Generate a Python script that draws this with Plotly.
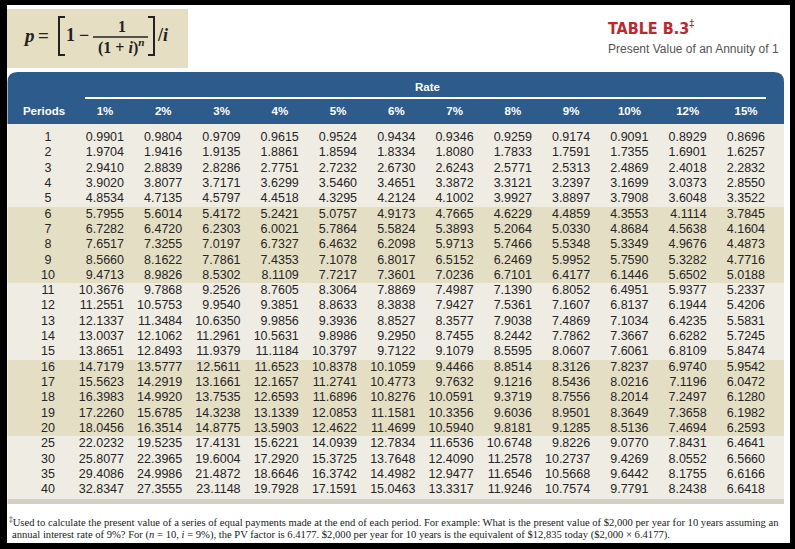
import plotly.graph_objects as go

# ---------------- data ----------------
rates = ["1%", "2%", "3%", "4%", "5%", "6%", "7%", "8%", "9%", "10%", "12%", "15%"]
periods = ["1", "2", "3", "4", "5", "6", "7", "8", "9", "10", "11", "12", "13", "14",
           "15", "16", "17", "18", "19", "20", "25", "30", "35", "40"]

pv_1 = [0.9901, 1.9704, 2.9410, 3.9020, 4.8534, 5.7955, 6.7282, 7.6517, 8.5660, 9.4713, 10.3676, 11.2551,
        12.1337, 13.0037, 13.8651, 14.7179, 15.5623, 16.3983, 17.2260, 18.0456, 22.0232, 25.8077, 29.4086, 32.8347]
pv_2 = [0.9804, 1.9416, 2.8839, 3.8077, 4.7135, 5.6014, 6.4720, 7.3255, 8.1622, 8.9826, 9.7868, 10.5753,
        11.3484, 12.1062, 12.8493, 13.5777, 14.2919, 14.9920, 15.6785, 16.3514, 19.5235, 22.3965, 24.9986, 27.3555]
pv_3 = [0.9709, 1.9135, 2.8286, 3.7171, 4.5797, 5.4172, 6.2303, 7.0197, 7.7861, 8.5302, 9.2526, 9.9540,
        10.6350, 11.2961, 11.9379, 12.5611, 13.1661, 13.7535, 14.3238, 14.8775, 17.4131, 19.6004, 21.4872, 23.1148]
pv_4 = [0.9615, 1.8861, 2.7751, 3.6299, 4.4518, 5.2421, 6.0021, 6.7327, 7.4353, 8.1109, 8.7605, 9.3851,
        9.9856, 10.5631, 11.1184, 11.6523, 12.1657, 12.6593, 13.1339, 13.5903, 15.6221, 17.2920, 18.6646, 19.7928]
pv_5 = [0.9524, 1.8594, 2.7232, 3.5460, 4.3295, 5.0757, 5.7864, 6.4632, 7.1078, 7.7217, 8.3064, 8.8633,
        9.3936, 9.8986, 10.3797, 10.8378, 11.2741, 11.6896, 12.0853, 12.4622, 14.0939, 15.3725, 16.3742, 17.1591]
pv_6 = [0.9434, 1.8334, 2.6730, 3.4651, 4.2124, 4.9173, 5.5824, 6.2098, 6.8017, 7.3601, 7.8869, 8.3838,
        8.8527, 9.2950, 9.7122, 10.1059, 10.4773, 10.8276, 11.1581, 11.4699, 12.7834, 13.7648, 14.4982, 15.0463]
pv_7 = [0.9346, 1.8080, 2.6243, 3.3872, 4.1002, 4.7665, 5.3893, 5.9713, 6.5152, 7.0236, 7.4987, 7.9427,
        8.3577, 8.7455, 9.1079, 9.4466, 9.7632, 10.0591, 10.3356, 10.5940, 11.6536, 12.4090, 12.9477, 13.3317]
pv_8 = [0.9259, 1.7833, 2.5771, 3.3121, 3.9927, 4.6229, 5.2064, 5.7466, 6.2469, 6.7101, 7.1390, 7.5361,
        7.9038, 8.2442, 8.5595, 8.8514, 9.1216, 9.3719, 9.6036, 9.8181, 10.6748, 11.2578, 11.6546, 11.9246]
pv_9 = [0.9174, 1.7591, 2.5313, 3.2397, 3.8897, 4.4859, 5.0330, 5.5348, 5.9952, 6.4177, 6.8052, 7.1607,
        7.4869, 7.7862, 8.0607, 8.3126, 8.5436, 8.7556, 8.9501, 9.1285, 9.8226, 10.2737, 10.5668, 10.7574]
pv_10 = [0.9091, 1.7355, 2.4869, 3.1699, 3.7908, 4.3553, 4.8684, 5.3349, 5.7590, 6.1446, 6.4951, 6.8137,
         7.1034, 7.3667, 7.6061, 7.8237, 8.0216, 8.2014, 8.3649, 8.5136, 9.0770, 9.4269, 9.6442, 9.7791]
pv_12 = [0.8929, 1.6901, 2.4018, 3.0373, 3.6048, 4.1114, 4.5638, 4.9676, 5.3282, 5.6502, 5.9377, 6.1944,
         6.4235, 6.6282, 6.8109, 6.9740, 7.1196, 7.2497, 7.3658, 7.4694, 7.8431, 8.0552, 8.1755, 8.2438]
pv_15 = [0.8696, 1.6257, 2.2832, 2.8550, 3.3522, 3.7845, 4.1604, 4.4873, 4.7716, 5.0188, 5.2337, 5.4206,
         5.5831, 5.7245, 5.8474, 5.9542, 6.0472, 6.1280, 6.1982, 6.2593, 6.4641, 6.5660, 6.6166, 6.6418]

columns = [pv_1, pv_2, pv_3, pv_4, pv_5, pv_6, pv_7, pv_8, pv_9, pv_10, pv_12, pv_15]

title_text = "TABLE B.3"
subtitle_text = "Present Value of an Annuity of 1"
group_label = "Rate"
period_label = "Periods"
foot_1 = ("<sup>‡</sup>Used to calculate the present value of a series of equal payments made at the end of each "
          "period. For example: What is the present value of $2,000 per year for 10 years assuming an")
foot_2 = ("annual interest rate of 9%? For (<i>n</i> = 10, <i>i</i> = 9%), the PV factor is 6.4177. "
          "$2,000 per year for 10 years is the equivalent of $12,835 today ($2,000 × 6.4177).")

# ---------------- layout helpers ----------------
W, H = 795, 549
def px(x):
    return x / W
def py(y):
    return 1 - y / H

NUMF = "Liberation Sans, Arial, sans-serif"
COND = "DejaVu Sans Condensed, DejaVu Sans, sans-serif"
SANS = "Liberation Sans, Arial, sans-serif"
SERIF = "Liberation Serif, Times New Roman, serif"
TXT = "#262626"
BLUE = "#2d5b8c"
LIGHT = "#efece3"
BEIGE = "#e4dec4"

# plot-area geometry (pixels)
top_px, bot_px = 124, 499
row1_px, rowN_px = 138, 490
step = (rowN_px - row1_px) / (len(periods) - 1)
y_top = -(row1_px - top_px) / step
y_bot = (bot_px - row1_px) / step

first_px, last_px = 124, 765
xs = (last_px - first_px) / (len(rates) - 1)

fig = go.Figure()

for rate, vals in zip(rates, columns):
    fig.add_trace(go.Scatter(
        x=[rate] * len(vals), y=periods, mode="text",
        text=[f"{v:.4f}" for v in vals], textposition="middle left",
        textfont=dict(family=NUMF, size=12.5, color=TXT),
        xaxis="x", yaxis="y", hoverinfo="skip", showlegend=False))

fig.add_trace(go.Scatter(
    x=[period_label] * len(periods), y=periods, mode="text",
    text=periods, textposition="middle center",
    textfont=dict(family=NUMF, size=12.5, color=TXT),
    xaxis="x2", yaxis="y", hoverinfo="skip", showlegend=False))

# ---------------- shapes ----------------
shapes = []
shapes.append(dict(type="rect", xref="paper", yref="paper", x0=px(7), x1=px(790), y0=py(543), y1=py(5),
                   fillcolor="white", line_width=0, layer="below"))
shapes.append(dict(type="rect", xref="paper", yref="paper", x0=px(7), x1=px(188), y0=py(68), y1=py(9),
                   fillcolor="#e5dec3", line_width=0, layer="below"))
r = 10
hx0, hx1, hy0, hy1 = 7.5, 784, 72, top_px
path = (f"M {px(hx0)},{py(hy1)} L {px(hx0)},{py(hy0 + r)} Q {px(hx0)},{py(hy0)} {px(hx0 + r)},{py(hy0)} "
        f"L {px(hx1 - r)},{py(hy0)} Q {px(hx1)},{py(hy0)} {px(hx1)},{py(hy0 + r)} L {px(hx1)},{py(hy1)} Z")
shapes.append(dict(type="path", xref="paper", yref="paper", path=path, fillcolor=BLUE, line_width=0, layer="below"))
shapes.append(dict(type="line", xref="paper", yref="paper", x0=px(85), x1=px(766), y0=py(98), y1=py(98),
                   line=dict(color="white", width=2), layer="below"))

# row bands (groups of five rows)
n = len(periods)
for g, start in enumerate(range(0, n, 5)):
    end = min(start + 5, n)
    y0 = y_top if start == 0 else start - 0.5
    y1 = y_bot if end == n else end - 0.5
    shapes.append(dict(type="rect", xref="paper", yref="y", x0=px(7.5), x1=px(784), y0=y0, y1=y1,
                       fillcolor=LIGHT if g % 2 == 0 else BEIGE, line_width=0, layer="below"))
shapes.append(dict(type="rect", xref="paper", yref="paper", x0=px(7.5), x1=px(784), y0=py(504), y1=py(bot_px),
                   fillcolor="#d3cfc2", line_width=0, layer="below"))

# formula brackets and fraction bar
shapes.append(dict(type="path", xref="paper", yref="paper",
                   path=f"M {px(65)},{py(17)} L {px(59)},{py(17)} L {px(59)},{py(55)} L {px(65)},{py(55)}",
                   line=dict(color="#222", width=2), layer="above"))
shapes.append(dict(type="path", xref="paper", yref="paper",
                   path=f"M {px(148)},{py(17)} L {px(154)},{py(17)} L {px(154)},{py(55)} L {px(148)},{py(55)}",
                   line=dict(color="#222", width=2), layer="above"))
shapes.append(dict(type="line", xref="paper", yref="paper", x0=px(93), x1=px(148), y0=py(37), y1=py(37),
                   line=dict(color="#222", width=1.3), layer="above"))

# ---------------- annotations ----------------
ann = []
def text(x, y, s, size, color, family, xanchor="left", yanchor="middle"):
    ann.append(dict(x=px(x), y=py(y), xref="paper", yref="paper", text=s, showarrow=False,
                    xanchor=xanchor, yanchor=yanchor, font=dict(size=size, color=color, family=family)))

text(21, 36, "<b><i>p</i></b>", 19, "#222", SERIF)
text(36, 35, "<b>=</b>", 19, "#222", SERIF)
text(64, 35, "<b>1</b>", 18, "#222", SERIF)
text(77, 35, "<b>−</b>", 18, "#222", SERIF)
text(122, 26, "<b>1</b>", 16, "#222", SERIF, xanchor="center")
text(121, 47, "<b>(1 + <i>i</i>)<sup><i>n</i></sup></b>", 16, "#222", SERIF, xanchor="center")
text(155, 35, "<b>/<i>i</i></b>", 18, "#222", SERIF)

text(606, 27, f"<b>{title_text}</b><sup>‡</sup>", 16, "#c0272d", COND)
text(606, 49, subtitle_text, 12, "#555555", SANS)
text(427, 87, f"<b>{group_label}</b>", 11.5, "white", SANS, xanchor="center")

text(7, 521, foot_1, 10.6, "#222", SERIF)
text(10, 535, foot_2, 10.6, "#222", SERIF)

hdr_font = dict(family=SANS, size=11.5, color="white", weight="bold")

fig.update_layout(
    width=W, height=H, margin=dict(l=0, r=0, t=0, b=0),
    paper_bgcolor="black", plot_bgcolor="rgba(0,0,0,0)",
    shapes=shapes, annotations=ann, showlegend=False, hovermode=False,
    xaxis=dict(type="category", categoryarray=rates, categoryorder="array", domain=[0, 1],
               range=[-first_px / xs, (W - first_px) / xs], side="top", anchor="y",
               showgrid=False, zeroline=False, showline=False, ticks="",
               ticklabelshift=-19, ticklabelstandoff=6, tickfont=hdr_font),
    xaxis2=dict(type="category", categoryarray=[period_label], categoryorder="array", domain=[0, 1],
                range=[-48 / 100, (W - 48) / 100], side="top", overlaying="x", anchor="y",
                showgrid=False, zeroline=False, showline=False, ticks="",
                ticklabelshift=-4, ticklabelstandoff=6, tickfont=hdr_font),
    yaxis=dict(type="category", categoryarray=periods, categoryorder="array",
               domain=[py(bot_px), py(top_px)], range=[y_bot, y_top],
               showgrid=False, zeroline=False, showline=False, showticklabels=False, ticks=""),
)

fig.write_html("out.html", config={"displayModeBar": False, "staticPlot": True},
               post_script="document.body.style.margin='0';document.body.style.padding='0';")
